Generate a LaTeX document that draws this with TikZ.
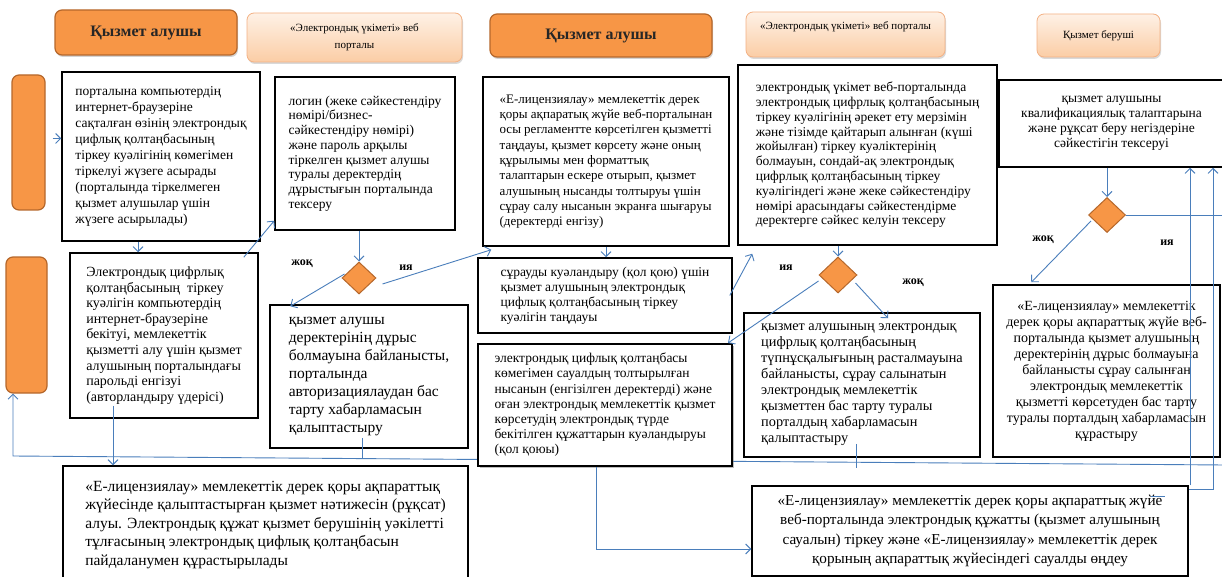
\documentclass[tikz,border=0pt]{standalone}
\usepackage{fontspec}
\setmainfont{Liberation Serif}
\usetikzlibrary{arrows.meta,shapes.geometric,shadows,calc}
\definecolor{orD}{HTML}{F79646}
\definecolor{orB}{HTML}{B5672B}
\definecolor{peT}{HTML}{FEF1E6}
\definecolor{peB}{HTML}{FBCDA5}
\definecolor{peL}{HTML}{F3B184}
\definecolor{lnblue}{HTML}{4A7EBB}
\begin{document}
\begin{tikzpicture}[x=1pt,y=-1pt,
 hdark/.style={draw=orB, line width=1.2pt, fill=orD, rounded corners=7pt,
   drop shadow={opacity=0.35,shadow xshift=1pt,shadow yshift=-2pt},
   font=\fontsize{16}{18}\selectfont\bfseries, text=black!85, inner sep=0pt},
 hlight/.style={draw=peL, line width=0.8pt, top color=peT, bottom color=peB, rounded corners=7pt,
   drop shadow={opacity=0.3,shadow xshift=1pt,shadow yshift=-2pt},
   font=\fontsize{11}{17}\selectfont, align=center, inner sep=0pt},
 side/.style={draw=orB, line width=1.2pt, fill=orD, rounded corners=7pt, inner sep=0pt},
 box/.style={rectangle, draw=black, line width=1.5pt, fill=white, align=left, inner sep=3pt},
 cbox/.style={box, align=center},
 dia/.style={diamond, draw=orB, fill=orD, line width=1pt, inner sep=0pt, minimum width=34pt, minimum height=32pt},
 lab/.style={font=\fontsize{12}{14}\selectfont\bfseries, inner sep=0pt},
 conn/.style={draw=lnblue, line width=0.9pt},
 arr/.style={conn, -{Straight Barb[length=5pt,width=10pt]}},
]
\useasboundingbox (0,0) rectangle (1222,577);
\clip (0,0) rectangle (1222,577);

% headers
\node[hdark, minimum width=182pt, minimum height=45pt] (H1) at (146,32.5) {Қызмет алушы};
\node[hlight, minimum width=215pt, minimum height=49pt] (H2) at (354.5,37.5) {«Электрондық үкіметі» веб\\порталы};
\node[hdark, minimum width=222pt, minimum height=43pt] (H3) at (601,35.5) {Қызмет алушы};
\node[hlight, minimum width=199pt, minimum height=45pt] (H4) at (845.5,34.5) {«Электрондық үкіметі» веб порталы\\\mbox{}};
\node[hlight, minimum width=123pt, minimum height=43pt] (H5) at (1098.5,35.5) {Қызмет беруші};

% side bars
\node[side, minimum width=33pt, minimum height=135pt] (S1) at (28.5,142.5) {};
\node[side, minimum width=41pt, minimum height=136pt] (S2) at (26.5,325) {};

% boxes
\node[box, minimum width=198pt, minimum height=169pt, font=\fontsize{13.5}{16}\selectfont] (B1) at (161,156.5)
{порталына компьютердің\\интернет-браузеріне\\сақталған өзінің электрондық\\цифлық қолтаңбасының\\тіркеу куәлігінің көмегімен\\тіркелуі жүзеге асырады\\(порталында тіркелмеген\\қызмет алушылар үшін\\жүзеге асырылады)};
\node[box, minimum width=180pt, minimum height=153pt, font=\fontsize{13.5}{14.7}\selectfont] (B2) at (365,153.5)
{логин (жеке сәйкестендіру\\нөмірі/бизнес-\\сәйкестендіру нөмірі)\\және пароль арқылы\\тіркелген қызмет алушы\\туралы деректердің\\дұрыстығын порталында\\тексеру};
\node[box, minimum width=246pt, minimum height=169pt, font=\fontsize{13}{15.3}\selectfont] (B3) at (606,161.5)
{«Е-лицензиялау» мемлекеттік дерек\\қоры ақпаратық жүйе веб-порталынан\\осы регламентте көрсетілген қызметті\\таңдауы, қызмет көрсету және оның\\құрылымы мен форматтық\\талаптарын ескере отырып, қызмет\\алушының нысанды толтыруы үшін\\сұрау салу нысанын экранға шығаруы\\(деректерді енгізу)};
\node[box, minimum width=259pt, minimum height=180pt, font=\fontsize{13.5}{14.8}\selectfont] (B4) at (867.5,155)
{электрондық үкімет веб-порталында\\электрондық цифрлық қолтаңбасының\\тіркеу куәлігінің әрекет ету мерзімін\\және тізімде қайтарып алынған (күші\\жойылған) тіркеу куәліктерінің\\болмауын, сондай-ақ электрондық\\цифрлық қолтаңбасының тіркеу\\куәлігіндегі және жеке сәйкестендіру\\нөмірі арасындағы сәйкестендірме\\деректерге сәйкес келуін тексеру};
\node[cbox, minimum width=225pt, minimum height=87pt, font=\fontsize{13.5}{15}\selectfont] (B5) at (1111.5,123.5)
{қызмет алушыны\\квалификациялық талаптарына\\және рұқсат беру негіздеріне\\сәйкестігін тексеруі};
\node[box, minimum width=188pt, minimum height=165pt, font=\fontsize{14}{15.6}\selectfont] (B6) at (164,335.5)
{Электрондық цифрлық\\қолтаңбасының~ тіркеу\\куәлігін компьютердің\\интернет-браузеріне\\бекітуі, мемлекеттік\\қызметті алу үшін қызмет\\алушының порталындағы\\парольді енгізуі\\(авторландыру үдерісі)};
\node[box, minimum width=198pt, minimum height=143pt, font=\fontsize{15.5}{18}\selectfont] (B7) at (369,376.5)
{қызмет алушы\\деректерінің дұрыс\\болмауына байланысты,\\порталында\\авторизациялаудан бас\\тарту хабарламасын\\қалыптастыру};
\node[box, minimum width=254pt, minimum height=75pt, font=\fontsize{13.5}{15}\selectfont] (B8) at (605,295.5)
{сұрауды куәландыру (қол қою) үшін\\қызмет алушының электрондық\\цифлық қолтаңбасының тіркеу\\куәлігін таңдауы};
\node[box, minimum width=236pt, minimum height=144pt, font=\fontsize{14.3}{16}\selectfont] (B10) at (862,385)
{қызмет алушының электрондық\\цифрлық қолтаңбасының\\түпнұсқалығының расталмауына\\байланысты, сұрау салынатын\\электрондық мемлекеттік\\қызметтен бас тарту туралы\\порталдың хабарламасын\\қалыптастыру};
\node[cbox, minimum width=227pt, minimum height=172pt, font=\fontsize{14}{16}\selectfont] (B11) at (1106.5,371)
{«Е-лицензиялау» мемлекеттік\\дерек қоры ақпараттық жүйе веб-\\порталында қызмет алушының\\деректерінің дұрыс болмауына\\байланысты сұрау салынған\\электрондық мемлекеттік\\қызметті көрсетуден бас тарту\\туралы порталдың хабарламасын\\құрастыру};
\node[box, minimum width=405pt, minimum height=118pt, font=\fontsize{15.5}{18.5}\selectfont] (B12) at (265.5,525)
{«Е-лицензиялау» мемлекеттік дерек қоры ақпараттық\\жүйесінде қалыптастырған қызмет нәтижесін (рұқсат)\\алуы. Электрондық құжат қызмет берушінің уәкілетті\\тұлғасының электрондық цифлық қолтаңбасын\\пайдаланумен құрастырылады};
\node[cbox, minimum width=436pt, minimum height=90pt, font=\fontsize{15.2}{19.5}\selectfont] (B13) at (970,531)
{«Е-лицензиялау» мемлекеттік дерек қоры ақпараттық жүйе\\веб-порталында электрондық құжатты (қызмет алушының\\сауалын) тіркеу және «Е-лицензиялау» мемлекеттік дерек\\қорының ақпараттық жүйесіндегі сауалды өңдеу};

% diamonds
\node[dia] (D1) at (359,278) {};
\node[dia, minimum width=38pt, minimum height=36pt] (D2) at (838,275) {};
\node[dia, minimum width=37pt, minimum height=35pt] (D3) at (1107,215) {};

% labels
\node[lab] (l1) at (302,264) {жоқ};
\node[lab] (l2) at (406,268) {ия};
\node[lab] (l3) at (786,268) {ия};
\node[lab] (l4) at (913,283) {жоқ};
\node[lab] (l5) at (1043,240) {жоқ};
\node[lab] (l6) at (1167,243) {ия};

% return line (behind B9)
\coordinate (ret1) at (1225,465);
\coordinate (ret2) at (13,456);
\draw[arr] (ret1) -- (ret2) -- (ret2 |- S2.south);

\node[box, line width=2pt, drop shadow={opacity=0.5,shadow xshift=1.5pt,shadow yshift=-1.5pt}, minimum width=254pt, minimum height=122pt, font=\fontsize{13.5}{15.2}\selectfont] (B9) at (605,405)
{электрондық цифлық қолтаңбасы\\көмегімен сауалдың толтырылған\\нысанын (енгізілген деректерді) және\\оған электрондық мемлекеттік қызмет\\көрсетудің электрондық түрде\\бекітілген құжаттарын куәландыруы\\(қол қоюы)};

% connectors
\coordinate (a1) at ($(S1.east)+(7,-4)$);
\draw[arr] (a1) -- (a1 -| B1.west);
\coordinate (a2) at ($(B1.south)+(-23,0)$);
\draw[arr] (a2) -- (a2 |- B6.north);
\draw[arr] ($(B6.north east)+(-15,5)$) -- ($(B2.south west)+(0,-10)$);
\draw[arr] (D1.north |- B2.south) -- (D1.north);
\draw[arr] ($(D1.west)+(3,-4)$) -- ($(B7.north west)+(21,2)$);
\draw[arr] ($(D1.east)+(6,6)$) -- ($(B3.south west)+(9,3)$);
\draw[arr] (B3.south) -- (B3.south |- B8.north);
\draw[arr] ($(B8.east)+(-3,0)$) -- ($(B4.south west)+(15,8)$);
\draw[arr] (D2.north |- B4.south) -- (D2.north);
\draw[arr] ($(D2.west)+(0,6)$) -- ($(B9.north east)+(-5,0)$);
\draw[arr] ($(D2.east)+(-2,8)$) -- ($(B10.north)+(26,6)$);
\draw[arr] (D3.north |- B5.south) -- (D3.north);
\draw[arr] ($(D3.west)+(3,6)$) -- ($(B11.north west)+(39,-2)$);
\coordinate (redge) at (1225,0);
\draw[conn] (D3.east) -- (D3.east -| redge);
\coordinate (r1) at (1190,0);
\coordinate (r2) at (1213,0);
\coordinate (r3) at ($(B13.north east)+(0,4)$);
\draw[arr] (r3) -- (r3 -| r2) -- (r2 |- B5.south);
\draw[arr] (r1 |- B13.north) -- (r1 |- B5.south);
\draw[conn] ($(B13.north east)+(-38,11)$) -- ($(B13.north east)+(-24,11)$);
\draw[conn] ($(B7.south)+(-7,-11)$) -- ($(B7.south)+(-7,9)$);
\coordinate (a19) at ($(B6.south)+(-51,-13)$);
\draw[arr] (a19) -- (a19 |- B12.north);
\draw[arr] ($(B9.south)+(-9,0)$) |- ($(B13.west)+(0,18)$);
\draw[conn] ($(B10.south)+(-6,-14)$) -- ($(B10.south)+(-6,10)$);
\end{tikzpicture}
\end{document}
